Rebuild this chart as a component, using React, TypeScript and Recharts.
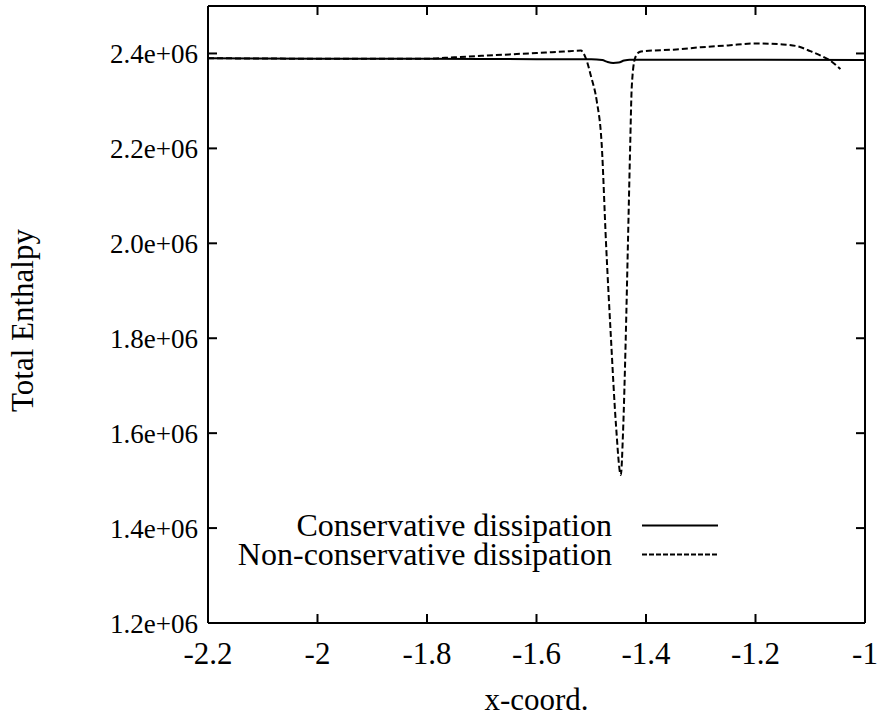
import React from "react";
import { LineChart, Line, XAxis, YAxis, Label } from "recharts";

const xTicks = [-2.2, -2, -1.8, -1.6, -1.4, -1.2, -1];
const yTicks = [1.2e6, 1.4e6, 1.6e6, 1.8e6, 2.0e6, 2.2e6, 2.4e6];

const consX = [-2.2, -2.0, -1.8, -1.6, -1.5, -1.48, -1.47, -1.46, -1.45, -1.44, -1.43, -1.4, -1.2, -1.0];
const consY = [2.390e6, 2.389e6, 2.389e6, 2.388e6, 2.388e6, 2.386e6, 2.382e6, 2.380e6, 2.381e6, 2.385e6, 2.387e6, 2.387e6, 2.387e6, 2.386e6];

const nonConsX = [
  -2.2, -2.0, -1.8, -1.75, -1.7, -1.65, -1.6, -1.55, -1.519, -1.51, -1.5, -1.49, -1.481, -1.473,
  -1.464, -1.455, -1.446, -1.442, -1.437, -1.433, -1.429, -1.426, -1.42, -1.412, -1.404, -1.35,
  -1.3, -1.25, -1.2, -1.15, -1.12, -1.1, -1.08, -1.065, -1.045,
];
const nonConsY = [
  2.390e6, 2.389e6, 2.389e6, 2.392e6, 2.395e6, 2.398e6, 2.401e6, 2.404e6, 2.406e6, 2.39e6, 2.35e6,
  2.30e6, 2.21e6, 2.0e6, 1.8e6, 1.62e6, 1.512e6, 1.6e6, 1.8e6, 2.0e6, 2.2e6, 2.33e6, 2.39e6,
  2.403e6, 2.405e6, 2.408e6, 2.413e6, 2.417e6, 2.421e6, 2.419e6, 2.414e6, 2.405e6, 2.395e6,
  2.386e6, 2.367e6,
];

// one table for the chart, x sorted, each series null where it has no point
const allX = Array.from(new Set([...consX, ...nonConsX])).sort((a, b) => a - b);
const data = allX.map((x) => {
  const ci = consX.indexOf(x);
  const ni = nonConsX.indexOf(x);
  return { x, cons: ci >= 0 ? consY[ci] : null, noncons: ni >= 0 ? nonConsY[ni] : null };
});

const FONT = "'Liberation Serif', 'Times New Roman', serif";
const frame = { stroke: "#000", strokeWidth: 2 };
const noLabel = () => <g />;

function formatY(v: number) {
  return (v / 1e6).toFixed(1) + "e+06";
}

const legendRows = [
  { name: "Conservative dissipation", dash: undefined as string | undefined },
  { name: "Non-conservative dissipation", dash: "5 2" },
];

function LegendBox() {
  return (
    <div
      style={{
        position: "absolute",
        left: 0,
        top: 511,
        fontFamily: FONT,
        fontSize: 32,
        color: "#000",
        pointerEvents: "none",
      }}
    >
      {legendRows.map((r) => (
        <div key={r.name} style={{ display: "flex", alignItems: "center", height: 29 }}>
          <div style={{ width: 612, textAlign: "right", lineHeight: "29px", whiteSpace: "nowrap" }}>
            {r.name}
          </div>
          <svg width={110} height={29} style={{ marginLeft: 30 }}>
            <line x1={0} x2={76} y1={14.5} y2={14.5} stroke="#000" strokeWidth={2} strokeDasharray={r.dash} />
          </svg>
        </div>
      ))}
    </div>
  );
}

export default function App() {
  return (
    <div style={{ position: "absolute", left: 0, top: 0, width: 881, height: 718, background: "#fff" }}>
      <LineChart width={881} height={718} data={data} margin={{ top: 6, right: 16, bottom: 0, left: 0 }}>
        {/* inward tick marks on all four sides, gnuplot style */}
        <XAxis
          xAxisId="bottomTicks"
          type="number"
          dataKey="x"
          domain={[-2.2, -1]}
          allowDataOverflow
          ticks={xTicks}
          mirror
          height={1}
          tick={noLabel}
          axisLine={frame}
          tickLine={frame}
          tickSize={9}
        />
        <XAxis
          xAxisId="bottom"
          type="number"
          dataKey="x"
          domain={[-2.2, -1]}
          allowDataOverflow
          ticks={xTicks}
          height={95}
          axisLine={frame}
          tickLine={false}
          tickSize={0}
          tickMargin={19}
          tick={{ fill: "#000", fontSize: 31, fontFamily: FONT }}
        >
          <Label
            content={({ viewBox }: any) => (
              <text
                x={viewBox.x + viewBox.width / 2}
                y={viewBox.y + 87}
                textAnchor="middle"
                fontFamily={FONT}
                fontSize={31}
                fill="#000"
              >
                x-coord.
              </text>
            )}
          />
        </XAxis>
        <XAxis
          xAxisId="top"
          orientation="top"
          type="number"
          dataKey="x"
          domain={[-2.2, -1]}
          allowDataOverflow
          ticks={xTicks}
          mirror
          height={1}
          tick={noLabel}
          axisLine={frame}
          tickLine={frame}
          tickSize={9}
        />
        <YAxis
          yAxisId="leftTicks"
          type="number"
          domain={[1.2e6, 2.5e6]}
          allowDataOverflow
          ticks={yTicks}
          mirror
          width={1}
          tick={noLabel}
          axisLine={frame}
          tickLine={frame}
          tickSize={9}
        />
        <YAxis
          yAxisId="left"
          type="number"
          domain={[1.2e6, 2.5e6]}
          allowDataOverflow
          ticks={yTicks}
          width={208}
          axisLine={frame}
          tickLine={false}
          tickSize={0}
          tickMargin={10}
          tick={{ fill: "#000", fontSize: 27, fontFamily: FONT }}
          tickFormatter={formatY}
        >
          <Label
            content={({ viewBox }: any) => {
              const cx = viewBox.x + 22;
              const cy = viewBox.y + viewBox.height / 2 + 6;
              return (
                <text
                  x={cx}
                  y={cy}
                  transform={`rotate(-90 ${cx} ${cy})`}
                  textAnchor="middle"
                  dominantBaseline="central"
                  fontFamily={FONT}
                  fontSize={31}
                  fill="#000"
                >
                  Total Enthalpy
                </text>
              );
            }}
          />
        </YAxis>
        <YAxis
          yAxisId="right"
          orientation="right"
          type="number"
          domain={[1.2e6, 2.5e6]}
          allowDataOverflow
          ticks={yTicks}
          mirror
          width={1}
          tick={noLabel}
          axisLine={frame}
          tickLine={frame}
          tickSize={9}
        />
        <Line
          xAxisId="bottom"
          yAxisId="left"
          dataKey="cons"
          type="monotone"
          connectNulls
          stroke="#000"
          strokeWidth={2}
          dot={false}
          isAnimationActive={false}
          name="Conservative dissipation"
        />
        <Line
          xAxisId="bottom"
          yAxisId="left"
          dataKey="noncons"
          type="monotone"
          connectNulls
          stroke="#000"
          strokeWidth={2}
          strokeDasharray="6 3"
          dot={false}
          isAnimationActive={false}
          name="Non-conservative dissipation"
        />
      </LineChart>
      <LegendBox />
    </div>
  );
}
